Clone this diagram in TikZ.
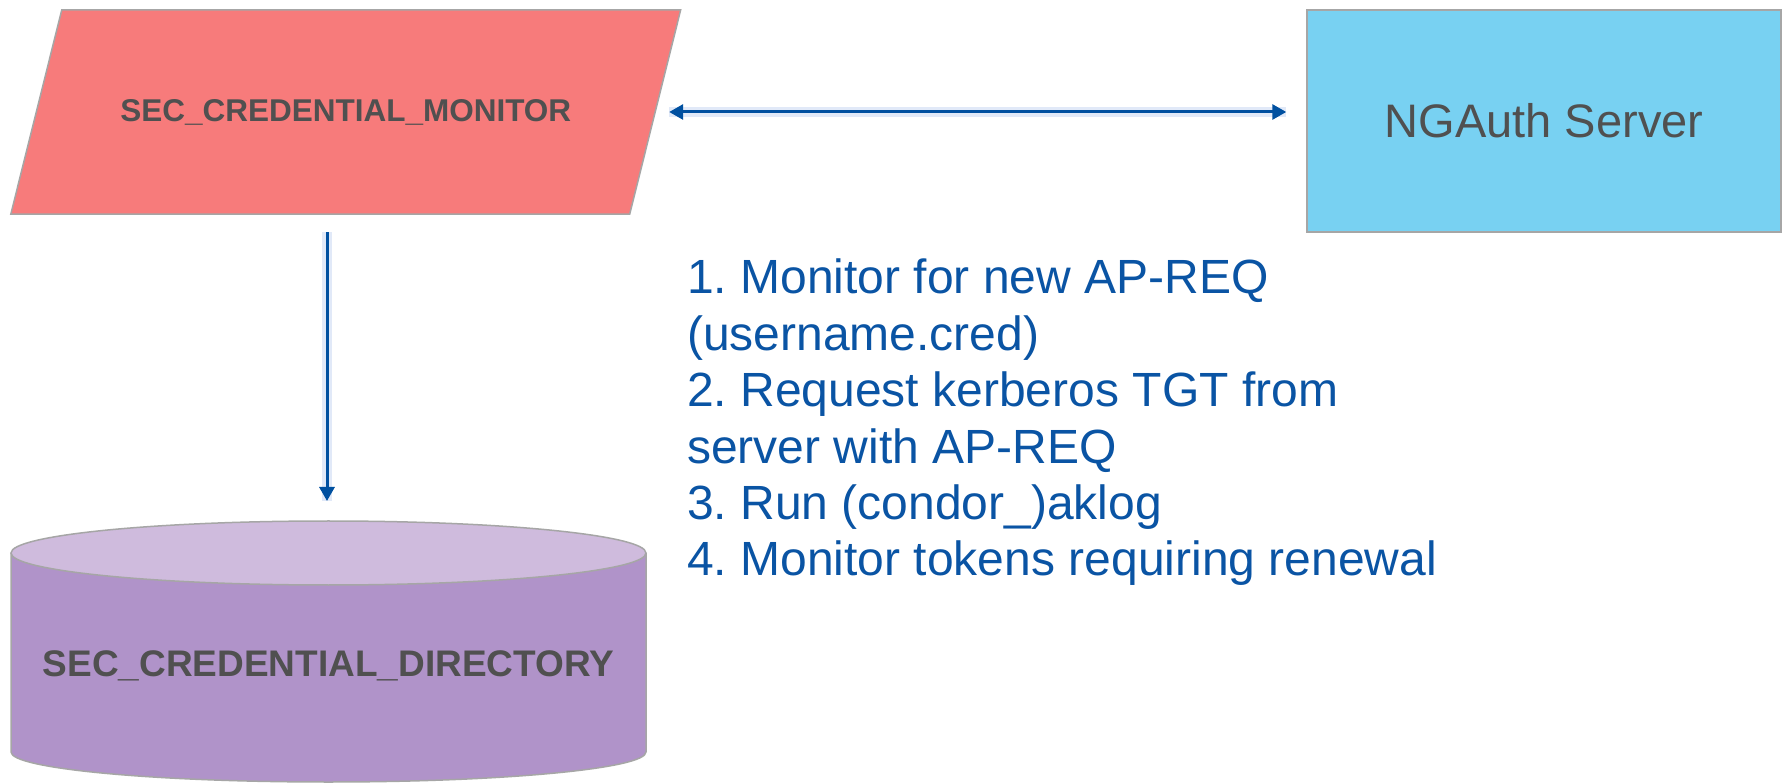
\documentclass[tikz,border=0pt]{standalone}
\usepackage{fontspec}
\setmainfont{Liberation Sans}
\usetikzlibrary{arrows.meta,backgrounds}
\frenchspacing

\definecolor{monfill}{RGB}{247,123,123}
\definecolor{ngfill}{RGB}{120,209,242}
\definecolor{cyltop}{RGB}{207,187,221}
\definecolor{cylbody}{RGB}{176,147,201}
\definecolor{edgegray}{RGB}{166,166,166}
\definecolor{labelgray}{RGB}{80,80,80}
\definecolor{listblue}{RGB}{10,84,164}
\definecolor{linkblue}{RGB}{0,80,160}
\definecolor{glowblue}{RGB}{225,233,248}

\begin{document}
\begin{tikzpicture}[x=1pt,y=1pt,
  shapeline/.style={draw=edgegray, line width=1.5pt},
  lbl/.style={text=labelgray, inner sep=0pt},
  conn/.style={draw=linkblue, line width=3pt,
    preaction={draw=glowblue, line width=10pt, -}},
  arr/.tip={Triangle[length=14pt,width=15pt]}]

\useasboundingbox (0,0) rectangle (1787,782);

% monitor daemon (parallelogram body drawn behind its label)
\node[lbl, font=\bfseries\fontsize{31.5}{38}\selectfont,
      minimum width=618.5pt, minimum height=204pt] (mon) at (345.75,670)
      {SEC\_CREDENTIAL\_MONITOR};

% authentication server
\node[shapeline, fill=ngfill, text=labelgray, inner sep=0pt,
      minimum width=474pt, minimum height=222pt,
      font=\fontsize{47}{56}\selectfont] (ng) at (1544,661) {NGAuth Server};

% credential store label and top of the cylinder
\node[lbl, font=\bfseries\fontsize{37}{44}\selectfont] (dir) at (328.5,116)
      {SEC\_CREDENTIAL\_DIRECTORY};
\coordinate (dirtop) at (327,261);

% numbered steps
\node[anchor=north west, inner sep=0pt, align=left, text=listblue,
      font=\fontsize{48}{56.4}\selectfont] (steps) at (687,523)
  {1. Monitor for new AP-REQ\\
   (username.cred)\\
   2. Request kerberos TGT from\\
   server with AP-REQ\\
   3. Run (condor\_)aklog\\
   4. Monitor tokens requiring renewal};

\begin{scope}[on background layer]
  \fill[white] (0,0) rectangle (1787,782);
  % parallelogram
  \draw[shapeline, fill=monfill]
    ([xshift=25.5pt]mon.north west) -- ([xshift=25.5pt]mon.north east) --
    ([xshift=-25.5pt]mon.south east) -- ([xshift=-25.5pt]mon.south west) -- cycle;
  % cylinder body
  \fill[cylbody] (11,229) -- (11,30)
    arc[start angle=180, end angle=360, x radius=317.5, y radius=30]
    -- (646,229) -- cycle;
  \draw[shapeline] (11,229) -- (11,30)
    arc[start angle=180, end angle=360, x radius=317.5, y radius=30]
    -- (646,229);
  % cylinder top
  \draw[shapeline, fill=cyltop] (328.5,229) ellipse[x radius=317.5, y radius=32];
\end{scope}

% connectors
\draw[conn, arr-arr, shorten <=14pt, shorten >=20pt]
  (mon.east) -- (mon.east -| ng.west);
\draw[conn, -arr, shorten <=18pt, shorten >=20pt]
  (mon.south -| dirtop) -- (dirtop);

\end{tikzpicture}
\end{document}
